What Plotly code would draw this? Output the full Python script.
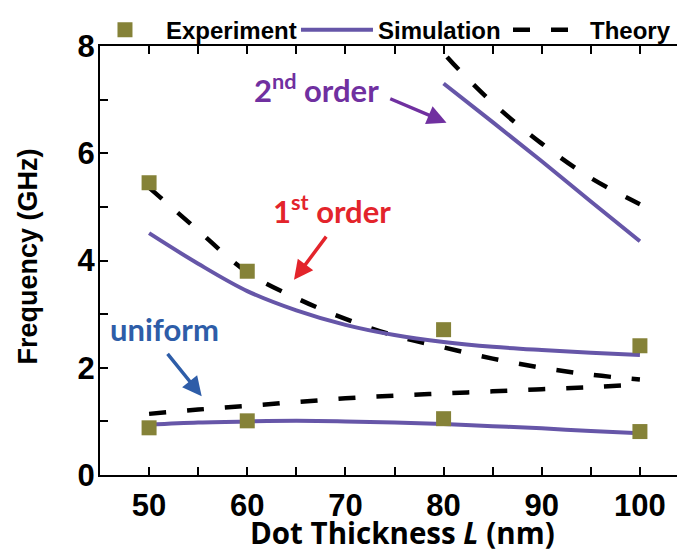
import plotly.graph_objects as go

# ---------------- data ----------------
thickness_exp = [50, 60, 80, 100]
exp_first = [5.45, 3.80, 2.71, 2.41]
exp_uniform = [0.88, 1.01, 1.05, 0.81]

thickness = [50, 55, 60, 65, 70, 75, 80, 85, 90, 95, 100]
sim_first = [4.51, 3.94, 3.43, 3.07, 2.80, 2.61, 2.48, 2.39, 2.33, 2.28, 2.24]
sim_uniform = [0.94, 0.98, 1.00, 1.01, 1.00, 0.98, 0.95, 0.91, 0.87, 0.82, 0.78]
theory_first = [5.36, 4.56, 3.78, 3.30, 2.91, 2.60, 2.38, 2.17, 2.00, 1.87, 1.78]
theory_uniform = [1.14, 1.22, 1.29, 1.36, 1.43, 1.48, 1.52, 1.56, 1.60, 1.64, 1.69]

thickness_second_sim = [80, 85, 90, 95, 100]
sim_second = [7.30, 6.58, 5.85, 5.10, 4.36]
thickness_second_th = [78, 80, 85, 90, 95, 100]
theory_second = [8.35, 7.87, 6.94, 6.18, 5.54, 5.05]

x_ticks = [50, 60, 70, 80, 90, 100]
y_ticks = [0, 2, 4, 6, 8]

x_title = "Dot Thickness <i>L</i> (nm)"
y_title = "Frequency (GHz)"

# ---------------- styles ----------------
EXP_COLOR = "#858238"
SIM_COLOR = "#6656A8"
TH_COLOR = "#000000"
PURPLE = "#7030A0"
RED = "#E3242B"
BLUE = "#2E5DA8"
ARIAL = "Liberation Sans, Arial, sans-serif"
CAL = "Lato, Calibri, sans-serif"
OPEN = "Open Sans, Calibri, sans-serif"
DASH = "17px,21px"

fig = go.Figure()

# Theory (dashed)
for xs, ys in [(thickness, theory_first), (thickness, theory_uniform),
               (thickness_second_th, theory_second)]:
    fig.add_trace(go.Scatter(x=xs, y=ys, mode="lines", name="Theory",
                             line=dict(color=TH_COLOR, width=4.5, dash=DASH, shape="spline"),
                             showlegend=False))

# Simulation (solid)
for xs, ys in [(thickness, sim_first), (thickness, sim_uniform),
               (thickness_second_sim, sim_second)]:
    fig.add_trace(go.Scatter(x=xs, y=ys, mode="lines", name="Simulation",
                             line=dict(color=SIM_COLOR, width=4, shape="spline"),
                             showlegend=False))

# Experiment (squares)
for ys in [exp_first, exp_uniform]:
    fig.add_trace(go.Scatter(x=thickness_exp, y=ys, mode="markers", name="Experiment",
                             marker=dict(symbol="square", size=15, color=EXP_COLOR),
                             showlegend=False))

# Legend entries (native legend)
fig.add_trace(go.Scatter(x=[None], y=[None], mode="markers", name="Experiment",
                         marker=dict(symbol="square", size=15, color=EXP_COLOR)))
fig.add_trace(go.Scatter(x=[None], y=[None], mode="lines", name="Simulation",
                         line=dict(color=SIM_COLOR, width=4)))
fig.add_trace(go.Scatter(x=[None], y=[None], mode="lines", name="Theory",
                         line=dict(color=TH_COLOR, width=4.5, dash=DASH)))

# Annotations
def label(text, x, y, color, size=31):
    fig.add_annotation(x=x, y=y, xref="x", yref="y", text=text, showarrow=False,
                       font=dict(family=CAL, size=size, color=color, weight="bold"))

def arrow(x0, y0, x1, y1, color):
    fig.add_annotation(x=x1, y=y1, ax=x0, ay=y0, xref="x", yref="y", axref="x", ayref="y",
                       text=" ", showarrow=True, arrowhead=2, arrowsize=1.1, arrowwidth=3.5,
                       arrowcolor=color, standoff=0, startstandoff=0,
                       font=dict(size=10))

label("2<sup>nd</sup> order", 67.1, 7.21, PURPLE)
arrow(74.26, 7.04, 80.3, 6.57, PURPLE)
label("1<sup>st</sup> order", 68.6, 4.95, RED)
arrow(68.35, 4.52, 64.76, 3.64, RED)
label("uniform", 51.6, 2.72, BLUE)
arrow(51.58, 2.33, 55.36, 1.47, BLUE)

# Axis titles
fig.add_annotation(x=0.514, y=-0.133, xref="paper", yref="paper", text=x_title,
                   showarrow=False, xanchor="center", yanchor="middle",
                   font=dict(family=OPEN, size=29.5, color="black", weight="bold"))
fig.add_annotation(x=-0.1215, y=0.5105, xref="paper", yref="paper", text=y_title,
                   showarrow=False, xanchor="center", yanchor="middle", textangle=-90,
                   font=dict(family=ARIAL, size=27, color="black", weight="bold"))

axis_common = dict(showline=True, linecolor="black", linewidth=2, mirror="allticks",
                   ticks="inside", ticklen=8, tickwidth=2, tickcolor="black",
                   showgrid=False, zeroline=False, automargin=False,
                   tickfont=dict(family=ARIAL, size=31, color="black", weight="bold"))

fig.update_xaxes(range=[45, 105], tickvals=x_ticks, ticktext=[str(v) for v in x_ticks],
                 minor=dict(dtick=5, tick0=45, ticks="inside", ticklen=8, tickwidth=2, tickcolor="black"),
                 ticklabelstandoff=2, **axis_common)
fig.update_yaxes(range=[0, 8], tickvals=y_ticks, ticktext=[str(v) for v in y_ticks],
                 minor=dict(dtick=1, tick0=0, ticks="inside", ticklen=8, tickwidth=2, tickcolor="black"),
                 ticklabelstandoff=-3, **axis_common)

fig.update_layout(
    width=685, height=552,
    margin=dict(l=92, r=4, t=38, b=85, autoexpand=False),
    plot_bgcolor="white", paper_bgcolor="white",
    legend=dict(orientation="h", x=-0.0272, y=1.037, xanchor="left", yanchor="middle",
                font=dict(family=ARIAL, size=24, color="black", weight="bold"),
                itemwidth=72, entrywidth=125, entrywidthmode="pixels",
                bgcolor="rgba(0,0,0,0)"),
)

fig.write_html("out.html")
